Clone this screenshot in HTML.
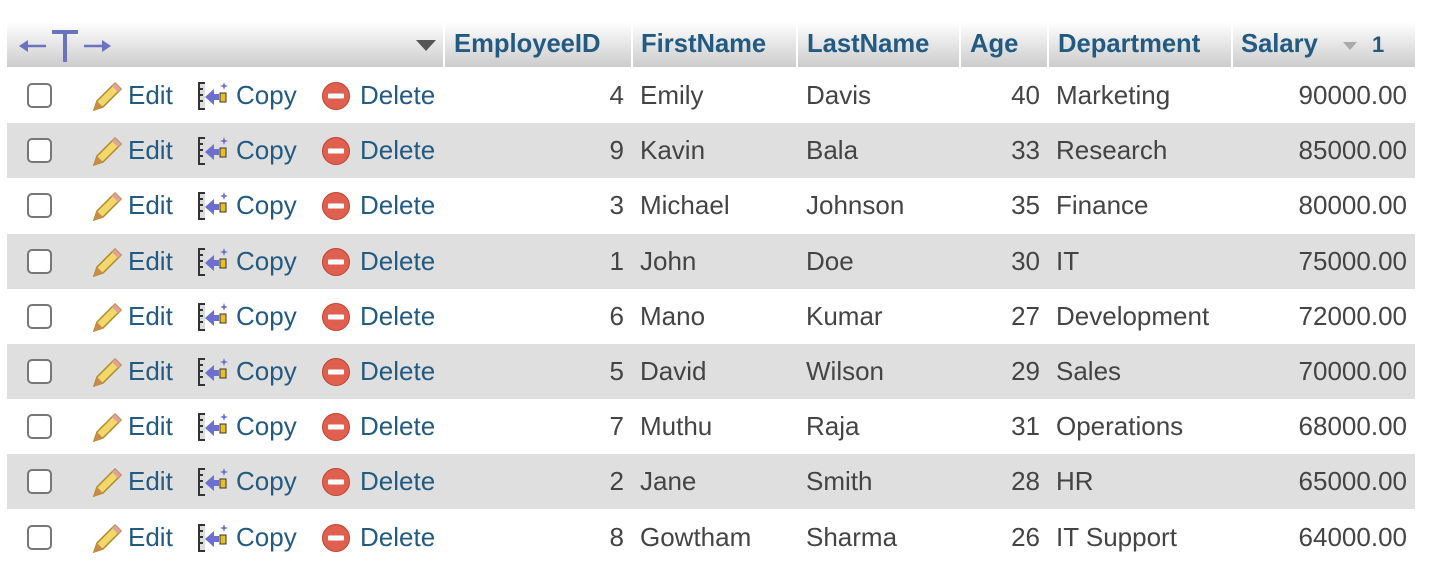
<!DOCTYPE html>
<html><head><meta charset="utf-8">
<style>
body{margin:0;width:1450px;height:584px;background:#fff;font-family:"Liberation Sans",Arial,sans-serif;position:relative;overflow:hidden}
.hdr{position:absolute;top:22px;height:45px;background:linear-gradient(#fff,#cccccc);}
.ht{position:absolute;top:22px;height:45px;line-height:45px;font-weight:bold;font-size:25.6px;color:#235a81}
.row{position:absolute;left:7px;width:1408px;height:55px}
.c{position:absolute;top:0;height:55px;line-height:55px;font-size:26px;color:#444}
.a{color:#235a81}
.cb{position:absolute;left:20px;top:15px;width:25px;height:25px;border:2px solid #777;border-radius:5px;background:#fff;box-sizing:border-box}
.r{text-align:right}
</style></head><body>
<div class="hdr" style="left:7px;width:436px"></div>
<div class="hdr" style="left:445px;width:186px"></div>
<div class="hdr" style="left:633px;width:163px"></div>
<div class="hdr" style="left:798px;width:161px"></div>
<div class="hdr" style="left:961px;width:86px"></div>
<div class="hdr" style="left:1049px;width:182px"></div>
<div class="hdr" style="left:1233px;width:182px"></div>
<svg style="position:absolute;left:18px;top:28px" width="96" height="36"><g fill="#6b72c0" stroke="#6b72c0" stroke-width="2.5"><line x1="4" y1="18" x2="28" y2="18"/><path d="M1 18 L10 12 L10 24Z" stroke="none"/><line x1="34" y1="4" x2="60" y2="4" stroke-width="4"/><line x1="47" y1="4" x2="47" y2="34" stroke-width="4"/><line x1="66" y1="18" x2="88" y2="18"/><path d="M93 18 L84 12 L84 24Z" stroke="none"/></g></svg>
<div style="position:absolute;left:416px;top:40px;width:0;height:0;border-left:10px solid transparent;border-right:10px solid transparent;border-top:11px solid #555"></div>
<div class="ht" style="left:454px">EmployeeID</div>
<div class="ht" style="left:641px">FirstName</div>
<div class="ht" style="left:807px">LastName</div>
<div class="ht" style="left:970px">Age</div>
<div class="ht" style="left:1058px">Department</div>
<div class="ht" style="left:1241px">Salary</div>
<div style="position:absolute;left:1343px;top:42px;width:0;height:0;border-left:7px solid transparent;border-right:7px solid transparent;border-top:8px solid #aaa"></div>
<div class="ht" style="left:1372px;font-size:22px">1</div>
<div id="rows"></div>
<script>
const ids=[4,9,3,1,6,5,7,2,8];
const first=["Emily","Kavin","Michael","John","Mano","David","Muthu","Jane","Gowtham"];
const last=["Davis","Bala","Johnson","Doe","Kumar","Wilson","Raja","Smith","Sharma"];
const ages=[40,33,35,30,27,29,31,28,26];
const depts=["Marketing","Research","Finance","IT","Development","Sales","Operations","HR","IT Support"];
const salaries=["90000.00","85000.00","80000.00","75000.00","72000.00","70000.00","68000.00","65000.00","64000.00"];
const pencil='<svg width="34" height="34" viewBox="0 0 34 34" style="position:absolute;left:83px;top:11px"><path d="M4 31 L7 22 L25 4 L31 10 L13 28 Z" fill="#f2d86a" stroke="#b08a2a" stroke-width="1.5"/><path d="M4 31 L7 22 L13 28 Z" fill="#c98a4a"/><path d="M25 4 L31 10 L28 13 L22 7Z" fill="#e0a0a0"/></svg>';
const copy='<svg width="34" height="34" viewBox="0 0 34 34" style="position:absolute;left:190px;top:11px"><rect x="1" y="3" width="7" height="28" fill="#333"/><rect x="3" y="5" width="5" height="24" fill="#ddd"/><rect x="3" y="9" width="3" height="2" fill="#333"/><rect x="3" y="15" width="3" height="2" fill="#333"/><rect x="3" y="21" width="3" height="2" fill="#333"/><path d="M8 18 L17 10 L17 15 L22 15 L22 21 L17 21 L17 26Z" fill="#6b6fd0"/><rect x="23" y="14" width="6" height="9" fill="#e8c020" stroke="#333"/><path d="M27 3 L28 6 L31 7 L28 8 L27 11 L26 8 L23 7 L26 6Z" fill="#6b6fd0"/></svg>';
const del='<svg width="30" height="30" style="position:absolute;left:314px;top:13px"><circle cx="15" cy="15" r="13.5" fill="#e06050" stroke="#c04030"/><rect x="7" y="12.5" width="16" height="5" rx="1" fill="#fff"/></svg>';
const box=document.getElementById('rows');
for(let i=0;i<ids.length;i++){
 const r=document.createElement('div');
 r.className='row';
 
 
 r.style.top=(68+55.2*i)+'px';
 r.style.background=i%2?'#dfdfdf':'#fff';
 r.innerHTML='<div class="cb"></div>'+pencil+
 '<div class="c a" style="left:121px">Edit</div>'+copy+
 '<div class="c a" style="left:229px">Copy</div>'+del+
 '<div class="c a" style="left:353px">Delete</div>'+
 '<div class="c r" style="left:440px;width:177px">'+ids[i]+'</div>'+
 '<div class="c" style="left:633px">'+first[i]+'</div>'+
 '<div class="c" style="left:799px">'+last[i]+'</div>'+
 '<div class="c r" style="left:955px;width:78px">'+ages[i]+'</div>'+
 '<div class="c" style="left:1049px">'+depts[i]+'</div>'+
 '<div class="c r" style="left:1200px;width:200px">'+salaries[i]+'</div>';
 box.appendChild(r);
}
</script>
</body></html>
